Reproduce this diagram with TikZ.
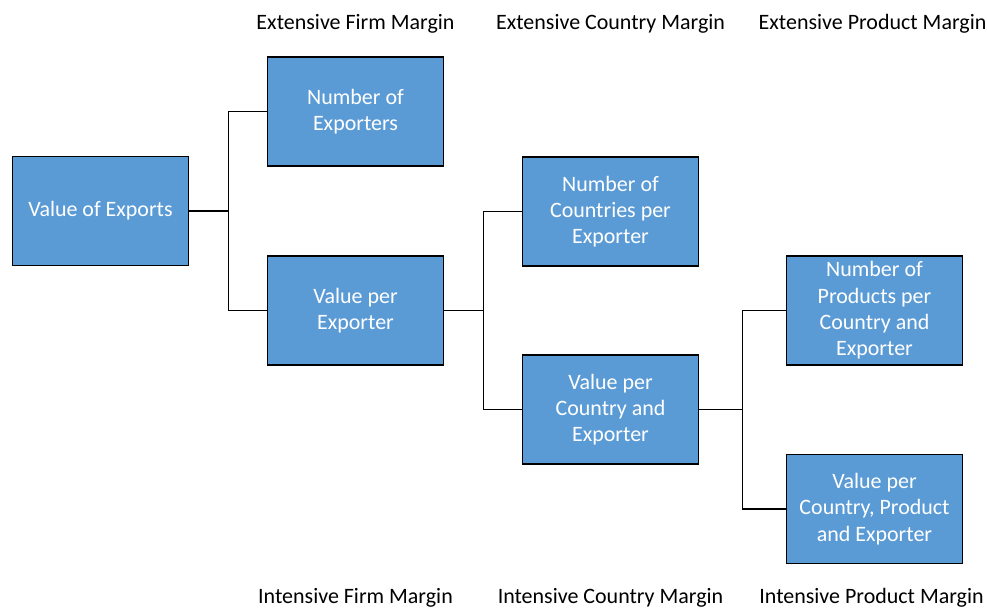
\documentclass[tikz,border=0pt]{standalone}
\usepackage{fontspec}
\setmainfont{Carlito}
\usetikzlibrary{positioning}
\definecolor{boxblue}{HTML}{5B9BD5}

\begin{document}
\begin{tikzpicture}[line width=1pt,
    font=\fontsize{12.5}{15}\selectfont,
    box/.style = {rectangle,
        draw=black,
        fill=boxblue,
        text=white,
        align=center,
        minimum width = 3.52cm,
        minimum height = 2.18cm},
    margin/.style = {text=black}]

\useasboundingbox (0,0) rectangle (19.74,-12.2);

% Total
\node[box] (exports) at (2.01,-4.22) {Value of Exports};

% Firm margins
\node[box] (nexp) at (7.11,-2.23) {Number of\\Exporters};
\node[box] (vexp) at (7.11,-6.21) {Value per\\Exporter};

% Country margins
\node[box] (ncty) at (12.21,-4.23) {Number of\\Countries per\\Exporter};
\node[box] (vcty) at (12.21,-8.19) {Value per\\Country and\\Exporter};

% Product margins
\node[box] (nprod) at (17.49,-6.21) {Number of\\Products per\\Country and\\Exporter};
\node[box] (vprod) at (17.49,-10.18) {Value per\\Country, Product\\and Exporter};

% Connectors
\draw (exports.east) -- ++(0.78,0) coordinate (j1) |- (nexp.west);
\draw (j1) |- (vexp.west);
\draw (vexp.east) -- ++(0.78,0) coordinate (j2) |- (ncty.west);
\draw (j2) |- (vcty.west);
\draw (vcty.east) -- ++(0.86,0) coordinate (j3) |- (nprod.west);
\draw (j3) |- (vprod.west);

% Margin labels
\node[margin] (extfirm) at (7.11,-0.48) {Extensive Firm Margin};
\node[margin] (extcty) at (12.21,-0.48) {Extensive Country Margin};
\node[margin] (extprod) at (17.45,-0.48) {Extensive Product Margin};
\node[margin] (intfirm) at (7.11,-11.96) {Intensive Firm Margin};
\node[margin] (intcty) at (12.21,-11.96) {Intensive Country Margin};
\node[margin] (intprod) at (17.43,-11.96) {Intensive Product Margin};

\end{tikzpicture}
\end{document}
